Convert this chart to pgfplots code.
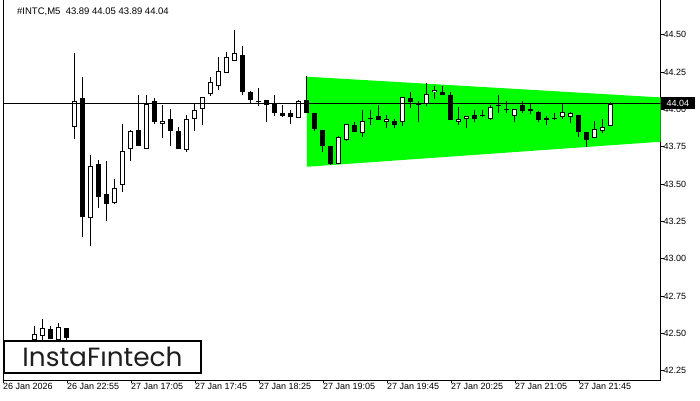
\documentclass[border=0pt]{standalone}
\usepackage{graphicx}
\usepackage{pgfplots}
\usepackage{pgfplotstable}
\pgfplotsset{compat=1.18}
\usepackage{fontspec}
\setmainfont{Liberation Sans}
\newfontfamily\logofont{Poppins}
\definecolor{patgreen}{RGB}{0,255,0}
\definecolor{logotext}{RGB}{30,30,30}

\pgfplotstableread{
i o h l c
4 42.457 42.550 42.450 42.497
5 42.486 42.597 42.457 42.535
6 42.528 42.550 42.461 42.461
7 42.457 42.573 42.457 42.546
8 42.535 42.535 42.457 42.472
9 43.882 44.381 43.801 44.058
10 44.078 44.220 43.149 43.279
11 43.272 43.696 43.086 43.622
12 43.636 43.662 43.343 43.417
13 43.435 43.656 43.256 43.370
14 43.376 43.533 43.370 43.473
15 43.493 43.904 43.448 43.721
16 43.734 43.863 43.658 43.855
17 43.863 44.098 43.758 43.758
18 43.734 44.098 43.734 44.037
19 44.058 44.076 43.901 43.919
20 43.901 44.031 43.812 43.922
21 43.935 44.004 43.758 43.859
22 43.855 43.881 43.738 43.738
23 43.731 43.964 43.714 43.935
24 43.939 44.039 43.859 43.995
25 44.002 44.082 43.899 44.082
26 44.102 44.218 44.093 44.183
27 44.156 44.352 44.133 44.256
28 44.243 44.386 44.243 44.350
29 44.323 44.533 44.323 44.377
30 44.364 44.426 44.100 44.120
31 44.116 44.122 44.035 44.062
32 44.058 44.143 44.026 44.051
33 44.062 44.062 43.919 44.029
34 44.042 44.096 43.959 43.979
35 43.975 44.029 43.952 43.959
36 43.975 43.997 43.901 43.952
37 43.942 44.064 43.942 44.056
38 44.064 44.225 43.979 43.979
39 43.975 43.975 43.859 43.872
40 43.863 43.863 43.718 43.758
41 43.756 43.756 43.629 43.636
42 43.634 43.821 43.634 43.814
43 43.798 43.901 43.792 43.901
44 43.895 43.917 43.852 43.852
45 43.845 43.997 43.818 43.922
46 43.944 43.997 43.899 43.935
47 43.957 44.031 43.932 43.932
48 43.919 43.964 43.879 43.935
49 43.922 43.935 43.879 43.899
50 43.915 44.082 43.892 44.082
51 44.078 44.118 44.013 44.053
52 44.046 44.055 43.919 44.029
53 44.035 44.178 44.026 44.102
54 44.116 44.158 44.073 44.133
55 44.116 44.158 44.100 44.100
56 44.096 44.116 43.932 43.932
57 43.919 44.017 43.899 43.935
58 43.939 43.955 43.879 43.955
59 43.962 43.995 43.919 43.939
60 43.962 43.997 43.952 43.955
61 43.939 44.029 43.932 44.016
62 44.033 44.100 43.979 44.026
63 44.004 44.055 43.979 43.997
64 43.959 44.002 43.919 44.002
65 44.029 44.055 43.979 43.993
66 44.004 44.039 43.972 43.991
67 43.982 43.993 43.917 43.930
68 43.946 43.957 43.895 43.932
69 43.943 43.979 43.932 43.936
70 43.952 44.039 43.939 43.982
71 43.952 43.986 43.908 43.975
72 43.962 43.962 43.818 43.852
73 43.848 43.848 43.752 43.798
74 43.812 43.922 43.812 43.872
75 43.859 43.935 43.845 43.882
76 43.890 44.050 43.890 44.040
}\candles

\begin{document}
\begin{tikzpicture}[x=1pt,y=1pt]
\path[use as bounding box] (0,0) rectangle (700,-400);
\begin{axis}[
  at={(3pt,2pt)}, anchor=north west,
  scale only axis, width=657.5pt, height=382pt,
  xmin=0, xmax=82.19, ymin=42.189, ymax=44.747,
  axis line style={black, line width=1pt},
  tick align=outside, xtick pos=bottom, ytick pos=right, yticklabel pos=right,
  major tick length=3pt, tick style={black, line width=0.8pt},
  xtick={0,8,16,24,32,40,48,56,64,72},
  xticklabels={26 Jan 2026, 26 Jan 22:55, 27 Jan 17:05, 27 Jan 17:45, 27 Jan 18:25, 27 Jan 19:05, 27 Jan 19:45, 27 Jan 20:25, 27 Jan 21:05, 27 Jan 21:45},
  xticklabel style={anchor=north west, inner sep=0pt, font=\fontsize{9}{10}\selectfont},
  ytick={42.25,42.5,42.75,43,43.25,43.5,43.75,44,44.25,44.5},
  yticklabel style={anchor=west, inner sep=0pt, font=\fontsize{9}{10}\selectfont,
    /pgf/number format/.cd, fixed, fixed zerofill, precision=2, assume math mode=true},
  clip=true,
]
% pattern
\addplot[fill=patgreen, draw=none] coordinates {(38,44.220) (82.3,44.081) (82.3,43.785) (38,43.617)} -- cycle;
% wicks
\addplot[draw=none, mark=none, error bars/.cd, y dir=plus, y explicit, error mark=none,
  error bar style={black, line width=1pt}]
  table[x=i, y=l, y error plus expr={\thisrow{h}-\thisrow{l}}] {\candles};
% bodies (black outline / solid)
\addplot[draw=none, mark=none, error bars/.cd, y dir=plus, y explicit, error mark=none,
  error bar style={black, line width=5pt, line cap=butt}]
  table[x=i, y expr={min(\thisrow{o},\thisrow{c})}, y error plus expr={abs(\thisrow{c}-\thisrow{o})}] {\candles};
% white bodies (bullish)
\addplot[draw=none, mark=none, unbounded coords=discard, error bars/.cd, y dir=plus, y explicit, error mark=none,
  error bar style={white, line width=3pt, line cap=butt, shorten <=1pt, shorten >=1pt}]
  table[x=i, y expr={\thisrow{c}>\thisrow{o} ? \thisrow{o} : nan}, y error plus expr={\thisrow{c}-\thisrow{o}}] {\candles};
% bid line
\addplot[black, line width=1pt] coordinates {(0,44.04) (82.3,44.04)};
\end{axis}
% current price label
\fill[black] (660.7,-97.3) rectangle (695,-109.3);
\node[white, inner sep=0pt, font=\fontsize{9}{10}\selectfont] at (677.8,-103.3) {44.04};
% title
\node[anchor=west, inner sep=0pt, font=\fontsize{9.5}{11}\selectfont] at (17,-12) {\#INTC,M5\ \ 43.89 44.05 43.89 44.04};
% logo
\draw[black, line width=2pt, fill=white] (4,-341.3) rectangle (200.7,-373.3);
\node[anchor=base, inner sep=0pt, text=logotext] at (102.5,-366) {\resizebox{160pt}{!}{\logofont\fontsize{24}{24}\selectfont InstaFıntech}};
\end{tikzpicture}
\end{document}
